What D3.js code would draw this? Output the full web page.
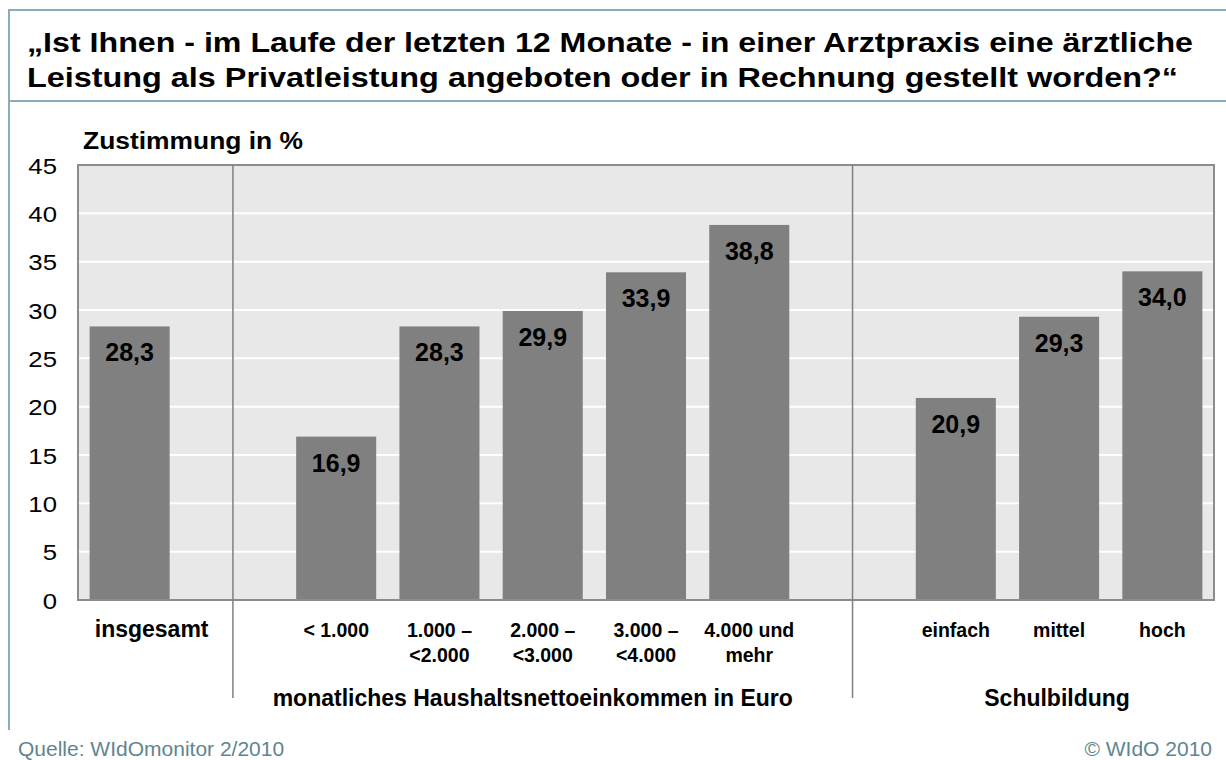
<!DOCTYPE html>
<html>
<head>
<meta charset="utf-8">
<script src="https://cdn.jsdelivr.net/npm/d3@7"></script>
<style>
  body { margin: 0; background: #fff; }
  svg { display: block; font-family: "Liberation Sans", Arial, sans-serif; }
</style>
</head>
<body>
<svg id="chart"></svg>
<script>
// chart data
const categories = ["insgesamt", "< 1.000", "1.000 –\n<2.000", "2.000 –\n<3.000", "3.000 –\n<4.000", "4.000 und\nmehr", "einfach", "mittel", "hoch"];
const values = [28.3, 16.9, 28.3, 29.9, 33.9, 38.8, 20.9, 29.3, 34.0];
const groupNames = ["", "monatliches Haushaltsnettoeinkommen in Euro", "Schulbildung"];
const groupOf = [0, 1, 1, 1, 1, 1, 2, 2, 2];
const yTicks = [0, 5, 10, 15, 20, 25, 30, 35, 40, 45];
const titleLines = ["„Ist Ihnen - im Laufe der letzten 12 Monate - in einer Arztpraxis eine ärztliche",
                    "Leistung als Privatleistung angeboten oder in Rechnung gestellt worden?“"];
const yLabel = "Zustimmung in %";
const sourceText = "Quelle: WIdOmonitor 2/2010";
const copyrightText = "© WIdO 2010";

const W = 1226, H = 760;
const frameColor = "#8aaeb7";
const plot = { left: 78, right: 1214, top: 165, bottom: 600 };

const svg = d3.select("#chart").attr("width", W).attr("height", H);

// frame: top line, title divider and left edge
svg.append("line").attr("x1", 9).attr("x2", W).attr("y1", 10).attr("y2", 10)
    .attr("stroke", frameColor).attr("stroke-width", 2);
svg.append("line").attr("x1", 9).attr("x2", W).attr("y1", 101).attr("y2", 101)
    .attr("stroke", frameColor).attr("stroke-width", 2);
svg.append("line").attr("x1", 9).attr("x2", 9).attr("y1", 9).attr("y2", 730)
    .attr("stroke", frameColor).attr("stroke-width", 2);

// the original lettering is wider than Arial, so the long texts get stretched a bit
const titleWidths = [1166, 1151];
svg.append("g").selectAll("text")
    .data(titleLines)
    .join("text")
    .attr("x", 27)
    .attr("y", (d, i) => 52 + i * 35)
    .attr("font-size", 27)
    .attr("font-weight", "bold")
    .attr("fill", "#000")
    .attr("textLength", (d, i) => titleWidths[i])
    .attr("lengthAdjust", "spacingAndGlyphs")
    .text((d) => d);

svg.append("text")
    .attr("x", 83).attr("y", 149)
    .attr("font-size", 23).attr("font-weight", "bold")
    .attr("textLength", 220)
    .attr("lengthAdjust", "spacingAndGlyphs")
    .text(yLabel);

// band domain with empty slots between the groups
const gapKeys = ["__gap1", "__gap2"];
const domain = [categories[0], gapKeys[0], ...categories.slice(1, 6), gapKeys[1], ...categories.slice(6)];

const x = d3.scaleBand()
    .domain(domain)
    .range([plot.left, plot.right])
    .paddingInner(0.225)
    .paddingOuter(0.1125);

const y = d3.scaleLinear()
    .domain([0, 45])
    .range([plot.bottom, plot.top]);

const center = (k) => x(k) + x.bandwidth() / 2;

svg.append("rect")
    .attr("x", plot.left).attr("y", plot.top)
    .attr("width", plot.right - plot.left).attr("height", plot.bottom - plot.top)
    .attr("fill", "#e8e8e8");

// gridlines
svg.append("g").selectAll("line")
    .data(yTicks.filter((t) => t > 0 && t < 45))
    .join("line")
    .attr("x1", plot.left).attr("x2", plot.right)
    .attr("y1", (d) => y(d)).attr("y2", (d) => y(d))
    .attr("stroke", "#fff").attr("stroke-width", 2);

const data = categories.map((c, i) => ({ key: c, value: values[i] }));

svg.append("g").selectAll("rect")
    .data(data)
    .join("rect")
    .attr("x", (d) => x(d.key))
    .attr("width", x.bandwidth())
    .attr("y", (d) => y(d.value))
    .attr("height", (d) => y(0) - y(d.value))
    .attr("fill", "#808080");

// plot border
svg.append("rect")
    .attr("x", plot.left).attr("y", plot.top)
    .attr("width", plot.right - plot.left).attr("height", plot.bottom - plot.top)
    .attr("fill", "none").attr("stroke", "#8c8c8c").attr("stroke-width", 2);

// separators between groups
svg.append("g").selectAll("line")
    .data(gapKeys)
    .join("line")
    .attr("x1", (d) => center(d)).attr("x2", (d) => center(d))
    .attr("y1", plot.top).attr("y2", 698)
    .attr("stroke", "#808080").attr("stroke-width", 1.5);

// value labels
svg.append("g").selectAll("text")
    .data(data)
    .join("text")
    .attr("x", (d) => center(d.key))
    .attr("y", (d) => y(d.value) + 35)
    .attr("text-anchor", "middle")
    .attr("font-size", 25)
    .attr("font-weight", "bold")
    .attr("fill", "#000")
    .text((d) => d3.format(".1f")(d.value).replace(".", ","));

// y axis
const yAxis = d3.axisLeft(y).tickValues(yTicks).tickSize(0).tickPadding(0);
const yAxisGroup = svg.append("g")
    .attr("transform", "translate(57,0)")
    .call(yAxis);
yAxisGroup.select(".domain").remove();
yAxisGroup.selectAll("text")
    .attr("font-size", 23)
    .attr("font-family", "Liberation Sans, Arial, sans-serif")
    .attr("fill", "#000")
    .attr("dy", "0.36em")
    .attr("transform", "scale(1.12,1)");

// category labels ("insgesamt" sits a little right of its bar in the original)
const catLabels = svg.append("g").selectAll("text")
    .data(data)
    .join("text")
    .attr("x", (d, i) => center(d.key) + (i === 0 ? 22 : 0))
    .attr("y", 637)
    .attr("text-anchor", "middle")
    .attr("font-size", (d, i) => i === 0 ? 23 : 19.5)
    .attr("font-weight", "bold")
    .attr("fill", "#000");
catLabels.selectAll("tspan")
    .data((d) => d.key.split("\n"))
    .join("tspan")
    .attr("x", function () { return d3.select(this.parentNode).attr("x"); })
    .attr("dy", (d, i) => i === 0 ? 0 : 25)
    .text((d) => d);

// group labels
const groupCenters = [1, 2].map((g) => {
    const members = categories.filter((c, i) => groupOf[i] === g);
    return (center(members[0]) + center(members[members.length - 1])) / 2;
});
svg.append("g").selectAll("text")
    .data(groupNames.slice(1))
    .join("text")
    .attr("x", (d, i) => groupCenters[i] + (i === 0 ? -10 : -2))
    .attr("y", 706)
    .attr("text-anchor", "middle")
    .attr("font-size", 23)
    .attr("font-weight", "bold")
    .text((d) => d);

// footer
svg.append("text")
    .attr("x", 18).attr("y", 756)
    .attr("font-size", 21).attr("fill", "#5f8590")
    .text(sourceText);
svg.append("text")
    .attr("x", 1212).attr("y", 756)
    .attr("text-anchor", "end")
    .attr("font-size", 21).attr("fill", "#5f8590")
    .text(copyrightText);
</script>
</body>
</html>
